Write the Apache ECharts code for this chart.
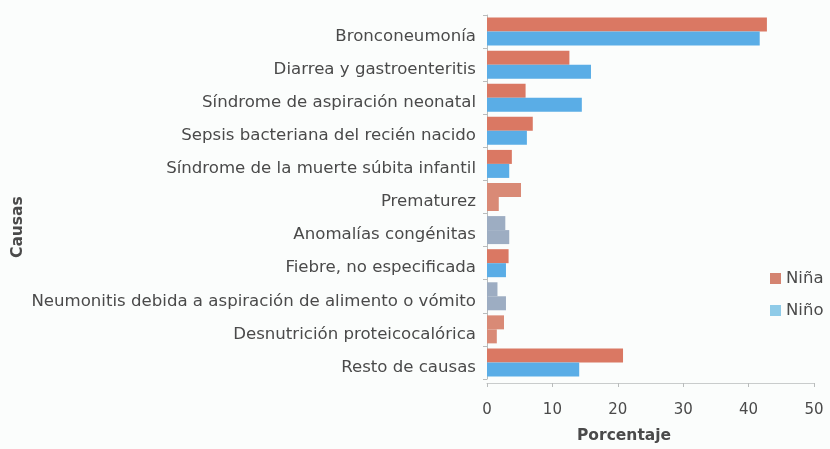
<!DOCTYPE html>
<html>
<head>
<meta charset="utf-8">
<script src="https://cdn.jsdelivr.net/npm/echarts@6/dist/echarts.min.js"></script>
<style>
  html, body { margin: 0; padding: 0; background: #fbfdfc; }
  #chart { width: 830px; height: 449px; }
</style>
</head>
<body>
<div id="chart"></div>
<script>
// Causes of infant death, percentage by sex
const causas = [
  'Bronconeumonía',
  'Diarrea y gastroenteritis',
  'Síndrome de aspiración neonatal',
  'Sepsis bacteriana del recién nacido',
  'Síndrome de la muerte súbita infantil',
  'Prematurez',
  'Anomalías congénitas',
  'Fiebre, no especificada',
  'Neumonitis debida a aspiración de alimento o vómito',
  'Desnutrición proteicocalórica',
  'Resto de causas'
];
const nina = [42.8, 12.6, 5.9, 7.0, 3.8, 5.2, 2.8, 3.3, 1.6, 2.6, 20.8];
const nino = [41.7, 15.9, 14.5, 6.1, 3.4, 1.8, 3.4, 2.9, 2.9, 1.5, 14.1];
const xTicks = [0, 10, 20, 30, 40, 50];

// Bar fills per row (some rows print in washed-out tones)
const SALMON = '#da7863', BLUE = '#5aade6', PALE_SALMON = '#d98a76', GREY_BLUE = '#9dadc2';
const ninaFill = [SALMON, SALMON, SALMON, SALMON, SALMON, PALE_SALMON, GREY_BLUE, SALMON, GREY_BLUE, PALE_SALMON, SALMON];
const ninoFill = [BLUE, BLUE, BLUE, BLUE, BLUE, PALE_SALMON, GREY_BLUE, BLUE, GREY_BLUE, PALE_SALMON, BLUE];

const FONT = 'DejaVu Sans';
const chart = echarts.init(document.getElementById('chart'), null, { renderer: 'canvas' });

chart.setOption({
  backgroundColor: '#fbfdfc',
  animation: false,
  grid: { left: 487, right: 16, top: 15, bottom: 70, containLabel: false },
  legend: {
    orient: 'vertical',
    left: 765,
    top: 265,
    itemWidth: 11,
    itemHeight: 11,
    itemGap: 15,
    icon: 'rect',
    textStyle: { fontFamily: FONT, fontSize: 16.5, color: '#4a4a4a' },
    data: [
      { name: 'Niña', itemStyle: { color: '#d48471' } },
      { name: 'Niño', itemStyle: { color: '#8fcbe8' } }
    ]
  },
  xAxis: {
    type: 'value',
    min: xTicks[0],
    max: xTicks[xTicks.length - 1],
    interval: 10,
    offset: 4,
    splitLine: { show: false },
    axisLine: { show: true, lineStyle: { color: '#c9cccc', width: 1 } },
    axisTick: { show: true, length: 4, lineStyle: { color: '#b9bcbc' } },
    axisLabel: {
      fontFamily: FONT, fontSize: 15, margin: 20,
      color: function (v) { return v === 0 ? '#a8a8a8' : '#4a4a4a'; }
    }
  },
  yAxis: {
    type: 'category',
    inverse: true,
    data: causas,
    axisLine: { show: true, lineStyle: { color: '#b9bcbc', width: 1 } },
    axisTick: { show: true, length: 4, lineStyle: { color: '#b9bcbc' } },
    axisLabel: {
      fontFamily: FONT, fontSize: 16.6, color: '#4a4a4a', margin: 11,
      verticalAlign: 'top', lineHeight: 10
    }
  },
  series: [
    {
      name: 'Niña',
      type: 'bar',
      barWidth: 14,
      barGap: '0%',
      data: nina.map((v, i) => ({ value: v, itemStyle: { color: ninaFill[i] } }))
    },
    {
      name: 'Niño',
      type: 'bar',
      barWidth: 14,
      barGap: '0%',
      data: nino.map((v, i) => ({ value: v, itemStyle: { color: ninoFill[i] } }))
    }
  ],
  graphic: [
    {
      type: 'text',
      left: 577,
      top: 428,
      style: { text: 'Porcentaje', font: 'bold 15.5px "DejaVu Sans"', fill: '#4a4a4a' }
    },
    {
      type: 'text',
      rotation: Math.PI / 2,
      x: 10,
      y: 258,
      style: { text: 'Causas', font: 'bold 15.5px "DejaVu Sans"', fill: '#4a4a4a' }
    }
  ]
});
</script>
</body>
</html>
